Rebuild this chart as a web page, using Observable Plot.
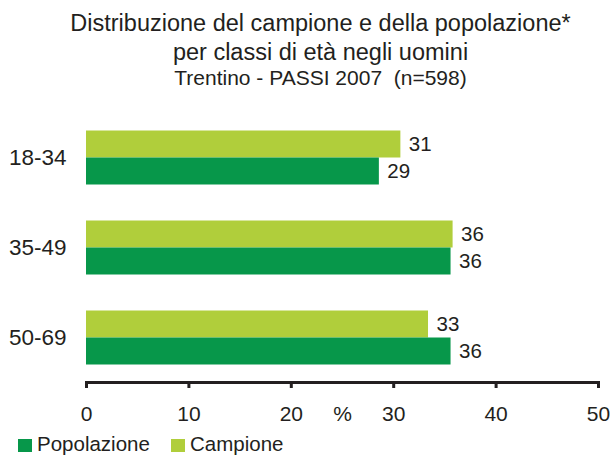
<!DOCTYPE html>
<html>
<head>
<meta charset="utf-8">
<script src="https://cdn.jsdelivr.net/npm/d3@7"></script>
<script src="https://cdn.jsdelivr.net/npm/@observablehq/plot@0.6"></script>
<style>
  html, body { margin: 0; padding: 0; background: #fff; }
  body { width: 611px; height: 455px; overflow: hidden; font-family: "Liberation Sans", Arial, sans-serif; color: #231f20; }
  #title { box-sizing: border-box; height: 100px; padding-top: 9px; padding-left: 30px; text-align: center; }
  #title .l1 { font-size: 23.5px; line-height: 28.5px; }
  #title .l3 { font-size: 21px; line-height: 25.5px; margin-top: -0.6px; white-space: pre; }
  #legend { position: relative; top: -2.5px; height: 20px; font-size: 20.5px; line-height: 21px; }
  #legend .sw { position: absolute; width: 14px; height: 13px; top: 6px; }
  #legend .lab { position: absolute; top: 0; white-space: nowrap; }
</style>
</head>
<body>
<div id="title">
  <div class="l1">Distribuzione del campione e della popolazione*</div>
  <div class="l1">per classi di età negli uomini</div>
  <div class="l3">Trentino - PASSI 2007  (n=598)</div>
</div>
<div id="chart"></div>
<div id="legend"></div>
<script>
const ages = ["18-34", "35-49", "50-69"];
const seriesOrder = ["Campione", "Popolazione"];
const campione = [30.7, 35.8, 33.4];
const popolazione = [28.6, 35.6, 35.6];
const xTicks = [0, 10, 20, 30, 40, 50];
const legendOrder = ["Popolazione", "Campione"];
const colorRange = ["#07974a", "#b0ce3b"];
const axisLabel = "%";

const data = ages.flatMap((age, i) => [
  {age, series: "Campione", value: campione[i]},
  {age, series: "Popolazione", value: popolazione[i]}
]);

const chart = Plot.plot({
  width: 611,
  height: 335,
  marginLeft: 86,
  marginRight: 13,
  marginTop: 11.5,
  marginBottom: 53.5,
  style: {fontFamily: "'Liberation Sans', Arial, sans-serif", fontSize: "21px", color: "#231f20", background: "transparent", overflow: "visible"},
  x: {domain: [0, 50]},
  y: {domain: seriesOrder, paddingInner: 0, paddingOuter: 0.636, axis: null},
  fy: {domain: ages, padding: 0},
  color: {domain: legendOrder, range: colorRange},
  marks: [
    Plot.barX(data, {fy: "age", y: "series", x: "value", fill: "series"}),
    Plot.text(data, {fy: "age", y: "series", x: "value", text: d => Math.round(d.value), dx: 8, textAnchor: "start", fontSize: 20.5, fill: "#231f20"}),
    Plot.frame({anchor: "bottom", stroke: "#231f20", strokeWidth: 3, facetAnchor: "bottom"}),
    Plot.axisX({ticks: xTicks, tickSize: 6, tickPadding: 17.5, strokeWidth: 3, stroke: "#231f20", fontSize: 21, label: axisLabel, labelAnchor: "center", labelArrow: "none", labelOffset: 38}),
    Plot.axisFy({anchor: "left", tickSize: 0, tickPadding: 20, fontSize: 22.5, label: null})
  ]
});
document.getElementById("chart").appendChild(chart);

const legend = document.getElementById("legend");
const swX = [18, 171];
legendOrder.forEach((name, i) => {
  const sw = document.createElement("div");
  sw.className = "sw";
  sw.style.left = swX[i] + "px";
  sw.style.background = colorRange[i];
  legend.appendChild(sw);
  const lab = document.createElement("div");
  lab.className = "lab";
  lab.style.left = (swX[i] + 19) + "px";
  lab.textContent = name;
  legend.appendChild(lab);
});
</script>
</body>
</html>
